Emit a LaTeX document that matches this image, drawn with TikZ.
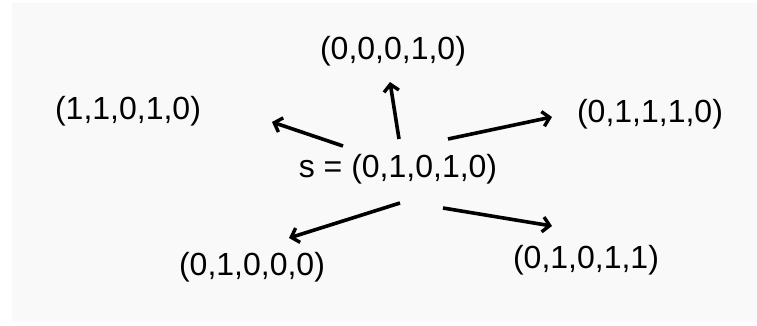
\documentclass[tikz,border=0pt]{standalone}
\usepackage{fontspec}
\setmainfont{Liberation Sans}
\usetikzlibrary{arrows.meta}
\definecolor{paper}{HTML}{F9F9F9}
\tikzset{
  state/.style={anchor=base, inner sep=0pt, font=\fontsize{32}{36}\selectfont},
  move/.style={line width=3.6pt, -{Straight Barb[length=7pt,width=15pt,line width=3.4pt]}}
}
\begin{document}
\begin{tikzpicture}[x=1pt, y=-1pt]
\useasboundingbox (0,0) rectangle (757,326);
\fill[paper] (12,3) rectangle (757,322);
\node[state] (S) at (398,177) {s = (0,1,0,1,0)};
\node[state] (N) at (393,60) {(0,0,0,1,0)};
\node[state] (NW) at (128,120) {(1,1,0,1,0)};
\node[state] (NE) at (650,122) {(0,1,1,1,0)};
\node[state] (SW) at (252,275) {(0,1,0,0,0)};
\node[state] (SE) at (586,268) {(0,1,0,1,1)};
\coordinate (nwS) at (343,146);
\coordinate (nwE) at (272,122);
\coordinate (nS) at (399,139);
\coordinate (nE) at (390,82);
\coordinate (neS) at (448,139);
\coordinate (neE) at (552,117);
\coordinate (swS) at (400,203);
\coordinate (swE) at (289,238);
\coordinate (seS) at (443,208);
\coordinate (seE) at (552,226);
\draw[move] (nwS) -- (nwE);
\draw[move] (nS) -- (nE);
\draw[move] (neS) -- (neE);
\draw[move] (swS) -- (swE);
\draw[move] (seS) -- (seE);
\end{tikzpicture}
\end{document}
